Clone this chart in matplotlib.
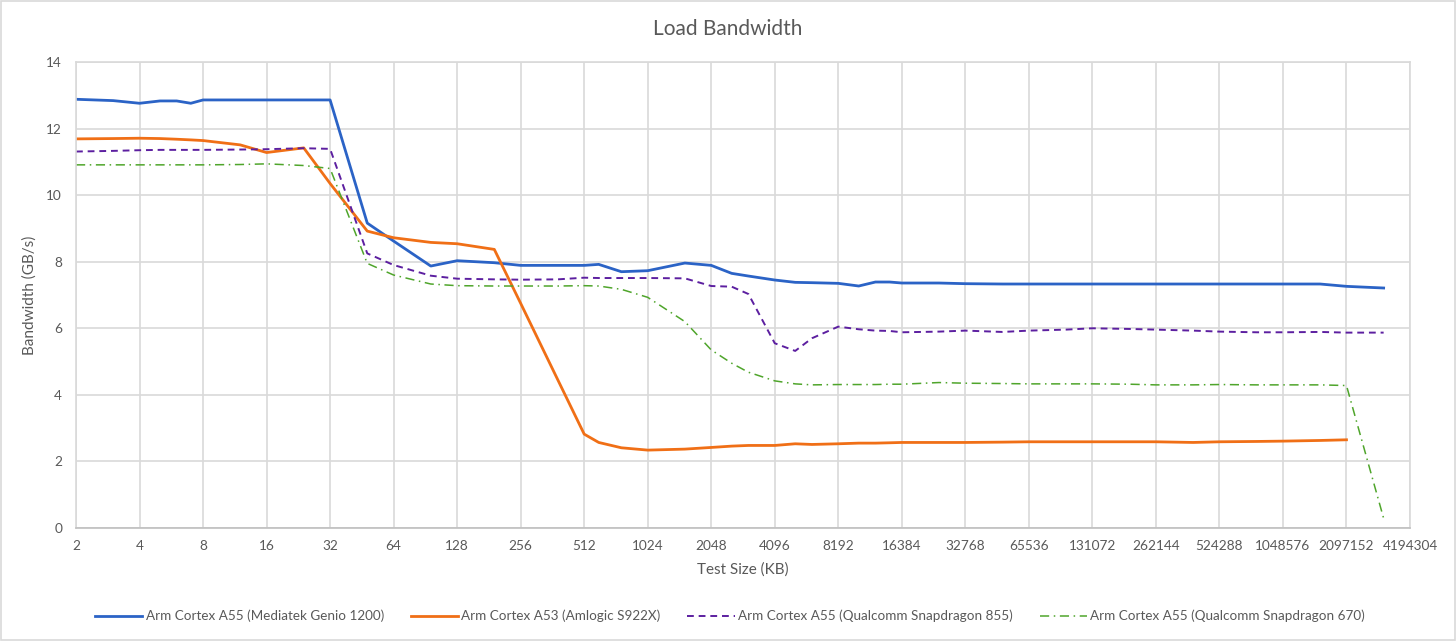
import numpy as np
import matplotlib.pyplot as plt
from matplotlib.ticker import FixedLocator, NullLocator

plt.rcParams['font.family'] = ['Lato', 'DejaVu Sans']

# test sizes in KB
sizes = [2, 3, 4, 5, 6, 7, 8, 12, 16, 24, 32, 48, 64, 96, 128, 192, 256, 384, 512, 600,
         768, 1024, 1536, 2048, 2560, 3072, 4096, 5120, 6144, 8192, 10240, 12288, 14336,
         16384, 24576, 32768, 49152, 65536, 98304, 131072, 196608, 262144, 393216, 524288,
         786432, 1048576, 1572864, 2097152, 3145728]

genio = [12.88, 12.84, 12.76, 12.83, 12.83, 12.76, 12.86, 12.86, 12.86, 12.86, 12.86,
         9.16, 8.62, 7.87, 8.03, 7.97, 7.89, 7.89, 7.89, 7.92,
         7.70, 7.73, 7.96, 7.89, 7.65, 7.57, 7.45, 7.38, 7.37, 7.35, 7.27, 7.39, 7.39,
         7.36, 7.36, 7.34, 7.33, 7.33, 7.33, 7.33, 7.33, 7.33, 7.33, 7.33,
         7.33, 7.33, 7.33, 7.26, 7.21]

s922x = [11.69, 11.70, 11.71, 11.70, 11.68, 11.66, 11.64, 11.51, 11.28, 11.42, 10.35,
         8.92, 8.72, 8.58, 8.54, 8.37, 6.75, 4.45, 2.82, 2.57,
         2.41, 2.34, 2.37, 2.42, 2.46, 2.48, 2.48, 2.53, 2.51, 2.53, 2.55, 2.55, 2.56,
         2.57, 2.57, 2.57, 2.58, 2.59, 2.59, 2.59, 2.59, 2.59, 2.57, 2.59,
         2.60, 2.61, 2.63, 2.65, np.nan]

sd855 = [11.31, 11.33, 11.35, 11.36, 11.36, 11.36, 11.36, 11.37, 11.38, 11.41, 11.39,
         8.25, 7.90, 7.58, 7.49, 7.47, 7.46, 7.47, 7.52, 7.51,
         7.51, 7.51, 7.50, 7.27, 7.25, 7.03, 5.55, 5.32, 5.70, 6.05, 5.97, 5.93, 5.92,
         5.88, 5.90, 5.93, 5.89, 5.93, 5.96, 6.00, 5.98, 5.96, 5.93, 5.90,
         5.88, 5.88, 5.89, 5.87, 5.87]

sd670 = [10.91, 10.91, 10.91, 10.91, 10.91, 10.91, 10.91, 10.92, 10.94, 10.89, 10.80,
         7.95, 7.60, 7.33, 7.28, 7.27, 7.27, 7.27, 7.28, 7.27,
         7.17, 6.93, 6.20, 5.35, 4.95, 4.68, 4.42, 4.33, 4.30, 4.31, 4.31, 4.31, 4.32,
         4.32, 4.37, 4.35, 4.34, 4.33, 4.33, 4.33, 4.32, 4.30, 4.30, 4.31,
         4.30, 4.30, 4.30, 4.28, 0.29]

labels = ['Arm Cortex A55 (Mediatek Genio 1200)', 'Arm Cortex A53 (Amlogic S922X)',
          'Arm Cortex A55 (Qualcomm Snapdragon 855)', 'Arm Cortex A55 (Qualcomm Snapdragon 670)']

fig = plt.figure(figsize=(14.56, 6.41), dpi=100)
ax = fig.add_axes([76/1456, 1 - 528/641, (1410-76)/1456, (528-62)/641])

ax.plot(sizes, genio, color='#2B63C6', lw=2.0, label=labels[0])
ax.plot(sizes, s922x, color='#F06F16', lw=2.0, label=labels[1])
ax.plot(sizes, sd855, color='#5C1FA0', lw=1.4, ls=(0, (3.5, 2.5)), label=labels[2])
ax.plot(sizes, sd670, color='#4FA52B', lw=1.1, ls=(0, (6, 3, 1, 3)), label=labels[3])

ax.set_xscale('log', base=2)
ax.set_xlim(2, 4194304)
ax.set_ylim(0, 14)
xt = [2 ** k for k in range(1, 23)]
ax.xaxis.set_major_locator(FixedLocator(xt))
ax.xaxis.set_minor_locator(NullLocator())
ax.set_xticklabels([str(v) for v in xt])
ax.set_yticks(range(0, 15, 2))

ax.grid(True, color='#D9D9D9', lw=1.2)
ax.set_axisbelow(True)
for side in ['top', 'right', 'left']:
    ax.spines[side].set_color('#D9D9D9')
    ax.spines[side].set_linewidth(1.2)
ax.spines['bottom'].set_color('#BFBFBF')
ax.spines['bottom'].set_linewidth(1.2)
ax.tick_params(length=0, labelsize=9.8, colors='#595959')
ax.tick_params(axis='x', pad=9)
ax.tick_params(axis='y', pad=10)

ax.set_xlabel('Test Size (KB)', fontsize=11, color='#595959', labelpad=7)
ax.set_ylabel('Bandwidth (GB/s)', fontsize=11, color='#595959', labelpad=7)
fig.text(0.5, 1 - 29/641, 'Load Bandwidth', ha='center', va='center', fontsize=15, color='#595959')

leg = fig.legend(loc='center', bbox_to_anchor=(730/1456, 1 - 616/641), ncol=4, frameon=False,
                 fontsize=9.7, handlelength=3.5, columnspacing=2.0, handletextpad=0.25)
for t in leg.get_texts():
    t.set_color('#595959')

# chart border
fig.patches.append(plt.Rectangle((0.0007, 0.001), 0.9986, 0.997, transform=fig.transFigure,
                                 fill=False, edgecolor='#D9D9D9', lw=1.2))

fig.savefig('out.png', dpi=100)
